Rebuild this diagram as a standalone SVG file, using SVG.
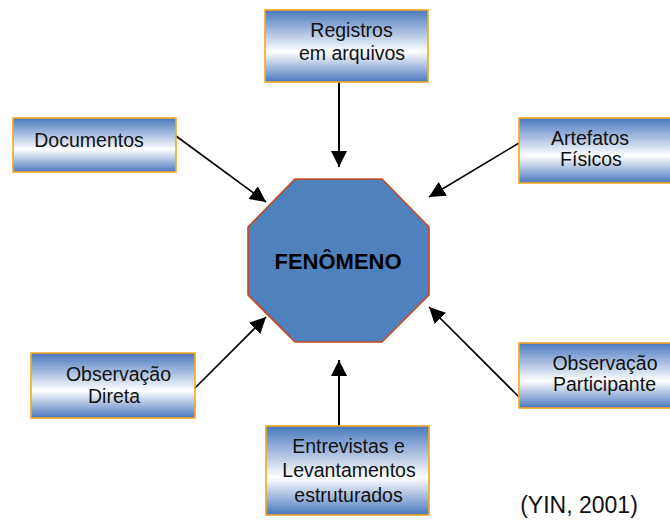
<svg xmlns="http://www.w3.org/2000/svg" width="670" height="520" viewBox="0 0 670 520">
<defs>
<linearGradient id="g" x1="0" y1="0" x2="0" y2="1">
<stop offset="0" stop-color="#4a78be"/>
<stop offset="0.58" stop-color="#ffffff"/>
<stop offset="1" stop-color="#4a78be"/>
</linearGradient>
<marker id="ah" markerUnits="userSpaceOnUse" markerWidth="18" markerHeight="16" refX="16" refY="8" orient="auto">
<path d="M0,0 L16,8 L0,16 Z" fill="#000"/>
</marker>
</defs>
<style>
.box{fill:url(#g);stroke:#f5a623;stroke-width:1.6}
.t{font-family:"Liberation Sans",Arial,sans-serif;font-size:19.5px;fill:#111;text-anchor:middle}
.c{stroke:#000;stroke-width:1.6;fill:none;marker-end:url(#ah)}
</style>
<rect width="670" height="520" fill="#fff"/>
<g id="connectors">
<line class="c" x1="339" y1="82" x2="339" y2="167" style="stroke-width:2"/>
<line class="c" x1="176" y1="136" x2="266" y2="202"/>
<line class="c" x1="519" y1="143" x2="429" y2="197"/>
<line class="c" x1="194" y1="389" x2="266" y2="317"/>
<line class="c" x1="519" y1="397" x2="429" y2="307"/>
<line class="c" x1="339" y1="426" x2="339" y2="360" style="stroke-width:2"/>
</g>
<g id="fenomeno">
<polygon points="295,179 382,179 429,227 429,295 382,342 295,342 248,295 248,227" fill="#4f81bd" stroke="#c8461e" stroke-width="1.6"/>
<text x="338" y="269" style="font-family:'Liberation Sans',Arial,sans-serif;font-size:22px;font-weight:bold;text-anchor:middle;fill:#000">FENÔMENO</text>
</g>
<g id="registros">
<rect class="box" x="265" y="10" width="163" height="72"/>
<text class="t" x="351.5" y="37">Registros</text>
<text class="t" x="352" y="60">em arquivos</text>
</g>
<g id="documentos">
<rect class="box" x="13" y="118" width="163" height="54"/>
<text class="t" x="89" y="147">Documentos</text>
</g>
<g id="artefatos">
<rect class="box" x="519" y="118" width="155" height="65"/>
<text class="t" x="590" y="145">Artefatos</text>
<text class="t" x="591" y="166">Físicos</text>
</g>
<g id="obs-participante">
<rect class="box" x="519" y="343" width="155" height="65"/>
<text class="t" x="605" y="370">Observação</text>
<text class="t" x="604.5" y="391">Participante</text>
</g>
<g id="obs-direta">
<rect class="box" x="31" y="353" width="164" height="65"/>
<text class="t" x="118.5" y="381">Observação</text>
<text class="t" x="114" y="403">Direta</text>
</g>
<g id="entrevistas">
<rect class="box" x="266" y="426" width="163" height="89"/>
<text class="t" x="348.5" y="453">Entrevistas e</text>
<text class="t" x="349" y="477">Levantamentos</text>
<text class="t" x="348.5" y="502">estruturados</text>
</g>
<text x="579" y="513" style="font-family:'Liberation Sans',Arial,sans-serif;font-size:23px;fill:#111;text-anchor:middle">(YIN, 2001)</text>
</svg>
